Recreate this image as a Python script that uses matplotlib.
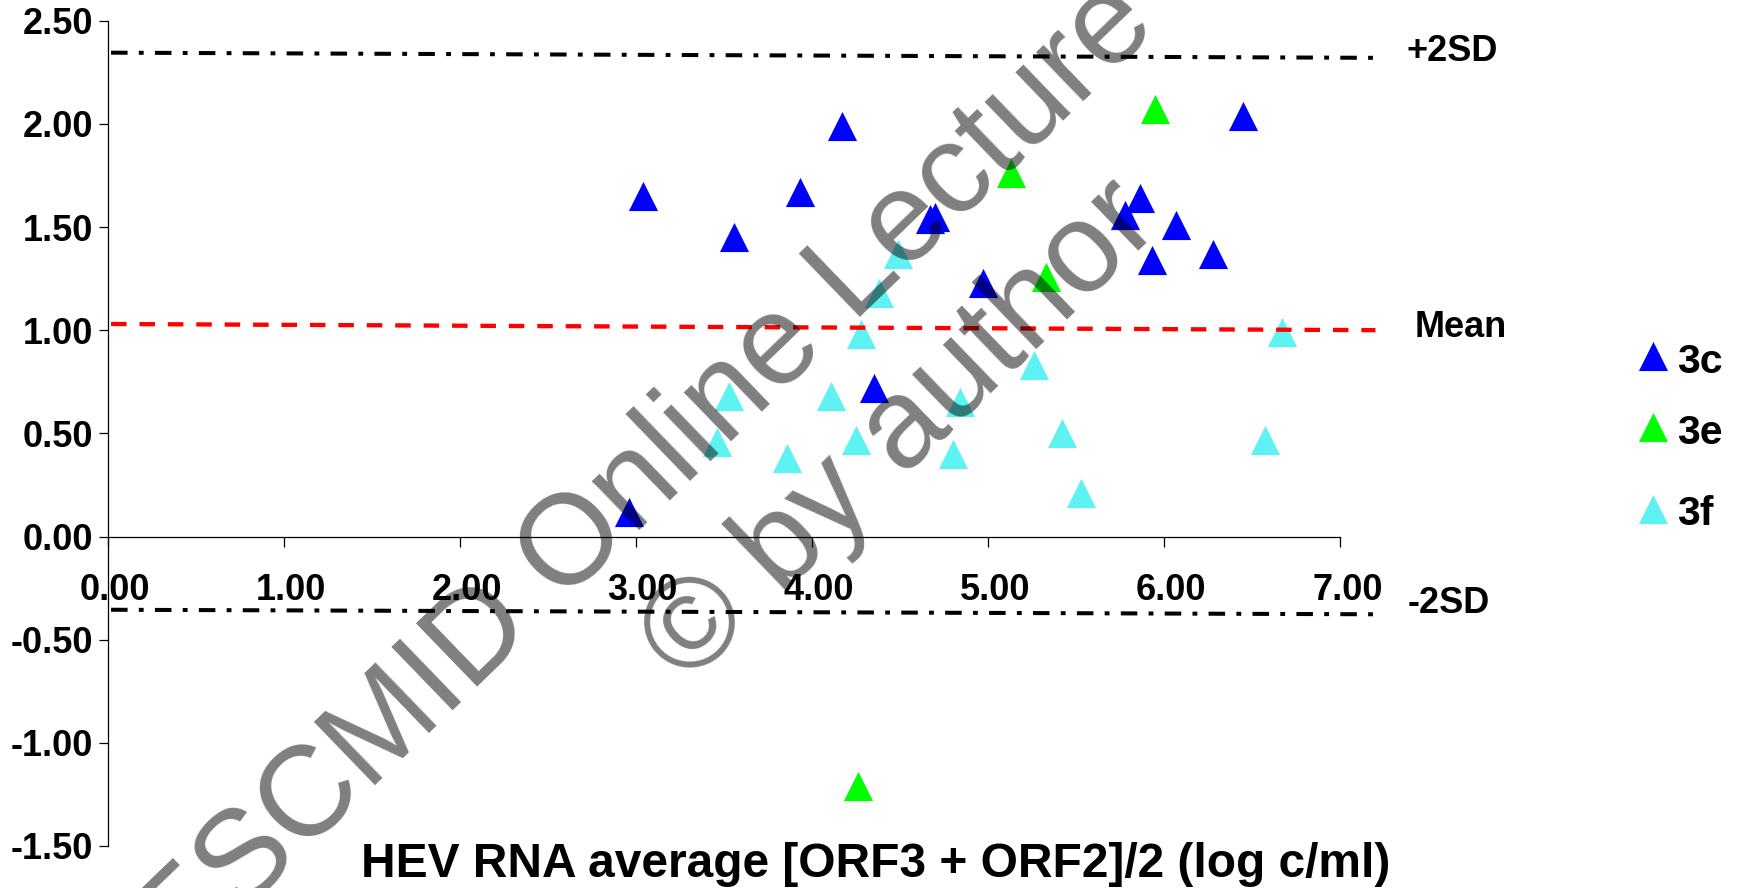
import matplotlib
matplotlib.use('Agg')

import matplotlib.pyplot as plt
import matplotlib.transforms as mtransforms

plt.rcParams['font.family'] = ['Liberation Sans', 'DejaVu Sans']

# genotype 3c
x_3c = [3.04, 3.56, 3.93, 4.17, 4.67, 4.70, 4.97, 6.45, 5.86, 5.78, 6.07, 5.93, 6.28, 4.35, 2.96]
y_3c = [1.65, 1.45, 1.67, 1.99, 1.54, 1.55, 1.23, 2.04, 1.64, 1.56, 1.51, 1.34, 1.37, 0.72, 0.12]
# genotype 3e
x_3e = [5.95, 5.13, 5.33, 4.26]
y_3e = [2.07, 1.76, 1.26, -1.21]
# genotype 3f
x_3f = [4.49, 4.38, 4.28, 5.26, 3.53, 4.11, 4.84, 3.46, 4.25, 3.86, 4.80, 5.42, 5.53, 6.57, 6.67]
y_3f = [1.37, 1.18, 0.98, 0.83, 0.68, 0.68, 0.65, 0.46, 0.47, 0.38, 0.40, 0.50, 0.21, 0.47, 0.99]

# reference lines (hand drawn, slightly tilted)
line_x = [0.02, 7.2]
upper_sd = [2.345, 2.32]
mean_diff = [1.03, 1.00]
lower_sd = [-0.355, -0.377]

x_ticks = [0, 1, 2, 3, 4, 5, 6, 7]
y_ticks = [-1.5, -1.0, -0.5, 0.0, 0.5, 1.0, 1.5, 2.0, 2.5]

labels = ['3c', '3e', '3f']
colors = ['#0000FF', '#00FF00', '#5FF2F2']
MS = 21

fig = plt.figure(figsize=(17.37, 8.88), dpi=100)
ax = fig.add_axes([0.0619, 0.0473, 0.7097, 0.9294])

for xs, ys, c in zip([x_3c, x_3e, x_3f], [y_3c, y_3e, y_3f], colors):
    ax.scatter(xs, ys, marker='^', s=MS**2, color=c, linewidths=0, zorder=3)

ax.plot(line_x, upper_sd, color='black', lw=2.9, dashes=(4.1, 2.8, 1.2, 2.8), clip_on=False, zorder=4)
ax.plot(line_x, lower_sd, color='black', lw=2.9, dashes=(4.1, 2.8, 1.2, 2.8), clip_on=False, zorder=4)
ax.plot(line_x, mean_diff, color='#FF0000', lw=3.1, dashes=(3.6, 3.0), clip_on=False, zorder=4)

ax.text(7.378, 2.305, '+2SD', fontsize=26, fontweight='bold', va='baseline', ha='left', clip_on=False)
ax.text(7.425, 0.9675, 'Mean', fontsize=26, fontweight='bold', va='baseline', ha='left', clip_on=False)
ax.text(7.385, -0.373, '-2SD', fontsize=26, fontweight='bold', va='baseline', ha='left', clip_on=False)

ax.set_xlim(0, 7)
ax.set_ylim(-1.5, 2.5)
ax.spines['bottom'].set_position(('data', 0))
ax.spines['top'].set_visible(False)
ax.spines['right'].set_visible(False)
for s in ['left', 'bottom']:
    ax.spines[s].set_linewidth(0.9)

ax.set_xticks(x_ticks)
ax.set_yticks(y_ticks)
ax.set_xticklabels(['%.2f' % v for v in x_ticks])
ax.set_yticklabels(['%.2f' % v for v in y_ticks])
ax.tick_params(axis='x', direction='out', length=7, width=0.9, pad=19, labelsize=26)
ax.tick_params(axis='y', direction='out', length=6.5, width=0.9, pad=4, labelsize=26)
for lab in ax.get_xticklabels() + ax.get_yticklabels():
    lab.set_fontweight('bold')
shift = mtransforms.ScaledTranslation(0.07, 0, fig.dpi_scale_trans)
for lab in ax.get_xticklabels():
    lab.set_transform(lab.get_transform() + shift)

# legend keys, placed by hand on the right (uneven spacing as in the slide)
key_x, text_x = 0.95153, 0.96528
key_y = [0.59932, 0.51948, 0.42646]
text_y = [0.58035, 0.5000, 0.40878]
for lab, c, ky, ty in zip(labels, colors, key_y, text_y):
    ax.scatter([key_x], [ky], marker='^', s=MS**2, color=c, linewidths=0,
               transform=fig.transFigure, clip_on=False)
    fig.text(text_x, ty, lab, fontsize=29.5, fontweight='bold', ha='left', va='baseline')

fig.text(0.5039, 0.0127, 'HEV RNA average [ORF3 + ORF2]/2 (log c/ml)', fontsize=34.5,
         fontweight='bold', ha='center', va='baseline')

# watermark
fig.text(0.1032, -0.0971, 'ESCMID Online Lecture Library', rotation=44, rotation_mode='anchor',
         ha='left', va='baseline', fontsize=92, color='black', alpha=0.5, zorder=10)
fig.text(0.3958, 0.2269, '\u00a9 by author', rotation=44, rotation_mode='anchor',
         ha='left', va='baseline', fontsize=92, color='black', alpha=0.5, zorder=10)

fig.savefig('out.png', dpi=100)
